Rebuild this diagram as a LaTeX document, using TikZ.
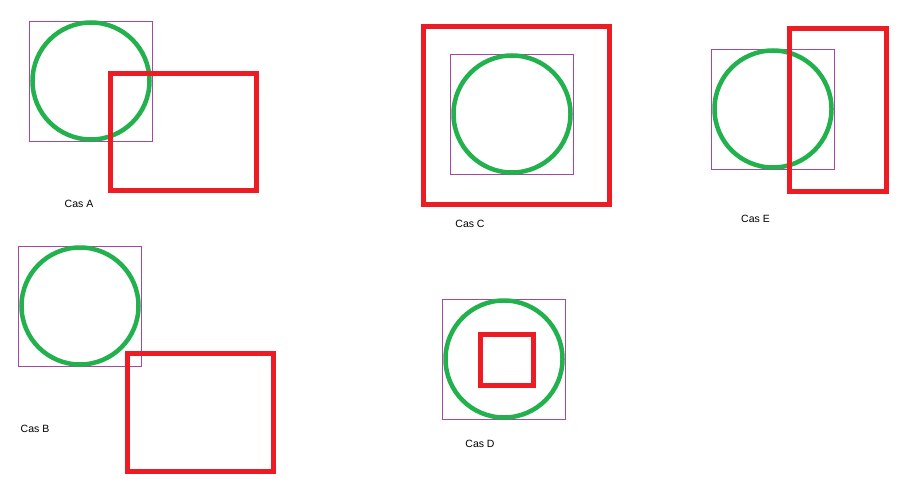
\documentclass[tikz,border=0pt]{standalone}
\usepackage{fontspec}
\setmainfont{Liberation Sans}
\definecolor{pgreen}{HTML}{22B14C}
\definecolor{pred}{HTML}{ED1C24}
\definecolor{ppurple}{HTML}{A349A4}
\begin{document}
\begin{tikzpicture}[x=1pt,y=-1pt,
  ring/.style={draw=pgreen,line width=4.5pt},
  bbox/.style={draw=ppurple,line width=1pt},
  rbox/.style={draw=pred,line width=5pt},
  caslabel/.style={font=\fontsize{10.5}{12}\selectfont,inner sep=0pt}]
\useasboundingbox[fill=white] (0,0) rectangle (901,492);
% Cas A
\draw[bbox] (29.5,21.5) rectangle (152.5,141);
\draw[ring] (91,81) circle[radius=58.5pt];
\draw[rbox] (110.5,73.5) rectangle (256,190.5);
\node[caslabel] (la) at (79,204) {Cas A};
% Cas B
\draw[bbox] (18.5,246.5) rectangle (141.5,366);
\draw[ring] (80,306) circle[radius=58.5pt];
\draw[rbox] (127.5,353.5) rectangle (273,471);
\node[caslabel] (lb) at (35,429) {Cas B};
% Cas C
\draw[bbox] (450.5,54.5) rectangle (573.5,174);
\draw[ring] (512,114) circle[radius=58.5pt];
\draw[rbox] (423.5,26.8) rectangle (609.5,204.2);
\node[caslabel] (lc) at (470,224) {Cas C};
% Cas D
\draw[bbox] (442.5,299.5) rectangle (565.5,419);
\draw[ring] (504,359) circle[radius=58.5pt];
\draw[rbox] (480.5,334.5) rectangle (533.5,385.5);
\node[caslabel] (ld) at (480,444) {Cas D};
% Cas E
\draw[bbox] (711.5,49.5) rectangle (834.5,169);
\draw[ring] (773,109) circle[radius=58.5pt];
\draw[rbox] (789.8,28.5) rectangle (886.2,191.8);
\node[caslabel] (le) at (755.5,219) {Cas E};
\end{tikzpicture}
\end{document}
